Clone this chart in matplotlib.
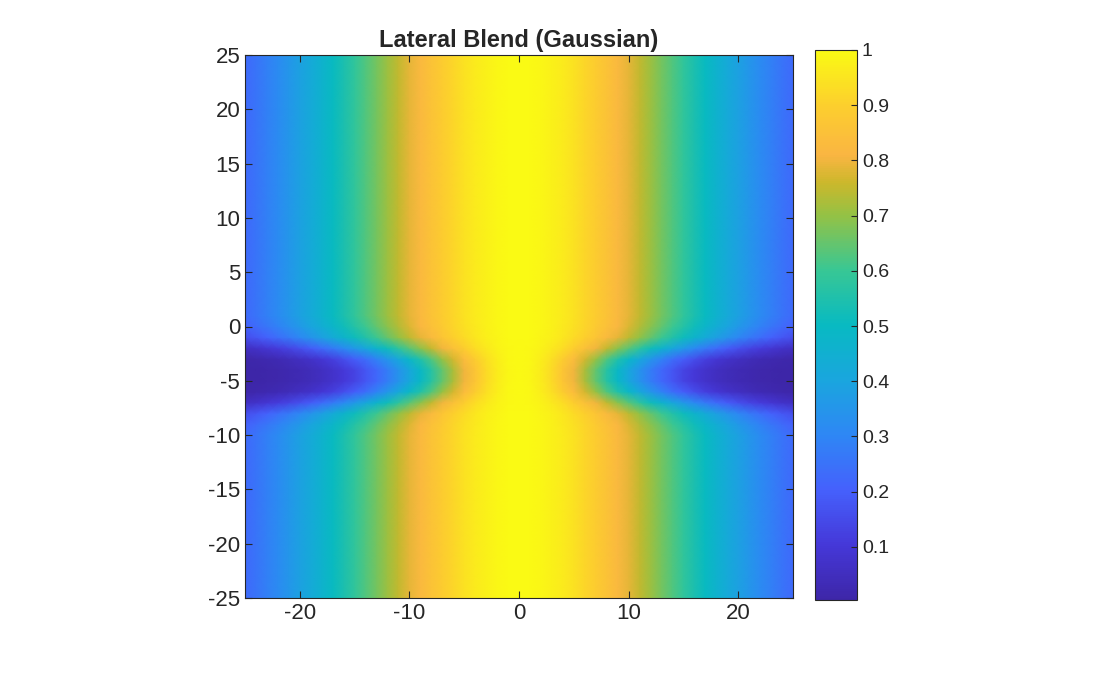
import numpy as np
import matplotlib
matplotlib.use("Agg")
import matplotlib.pyplot as plt
from matplotlib.colors import LinearSegmentedColormap

x_vals = np.arange(-25, 26)
y_vals = np.arange(-25, 26)
# Gaussian width per row (y = -25 .. 25)
sigma_rows = [14.5]*16 + [14, 13, 10.5, 8.3, 7.5, 7.5, 8.3, 10.5, 13, 14] + [14.5]*25

parula = [(0.0, (0.24,0.15,0.66)), (0.1, (0.27,0.22,0.85)), (0.2, (0.27,0.38,0.99)),
          (0.3, (0.18,0.53,0.96)), (0.4, (0.10,0.65,0.87)), (0.5, (0.03,0.73,0.76)),
          (0.6, (0.22,0.78,0.58)), (0.7, (0.58,0.76,0.27)), (0.76, (0.80,0.72,0.17)),
          (0.81, (0.98,0.71,0.26)), (0.9, (0.99,0.81,0.18)), (1.0, (0.98,0.98,0.08))]
cmap = LinearSegmentedColormap.from_list("parula", parula)

S = np.array(sigma_rows)[:, None]
Z = np.exp(-x_vals[None, :]**2 / (2*S**2))

plt.rcParams['font.family'] = 'Liberation Sans'
plt.rcParams['axes.unicode_minus'] = False
fig = plt.figure(figsize=(11.2, 6.74), dpi=100)
ax = fig.add_axes([245/1120, 1-598/674, 548/1120, 543/674])
m = ax.pcolormesh(x_vals, y_vals, Z, cmap=cmap, shading='gouraud', vmin=Z.min(), vmax=1)
ax.set_xlim(-25, 25); ax.set_ylim(-25, 25)
ax.set_xticks([-20, -10, 0, 10, 20]); ax.set_yticks(range(-25, 26, 5))
ax.tick_params(direction='in', labelsize=16, top=True, right=True, length=5, colors='#262626')
for s in ax.spines.values(): s.set_color('#262626')
ax.set_title('Lateral Blend (Gaussian)', fontsize=17, fontweight='bold', color='#262626', pad=6)
cax = fig.add_axes([815/1120, 1-600/674, 42/1120, 550/674])
cb = fig.colorbar(m, cax=cax)
cb.set_ticks([0.1,0.2,0.3,0.4,0.5,0.6,0.7,0.8,0.9,1])
cb.set_ticklabels(['0.1','0.2','0.3','0.4','0.5','0.6','0.7','0.8','0.9','1'])
cax.tick_params(direction='in', labelsize=14, length=4, colors='#262626')
cb.outline.set_edgecolor('#262626')
fig.savefig('out.png', dpi=100)
